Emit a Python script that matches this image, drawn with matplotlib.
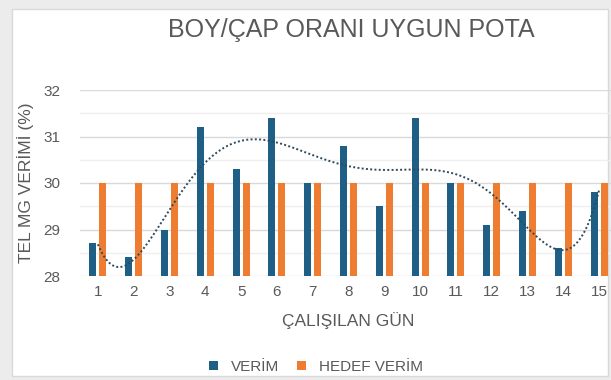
import numpy as np
import matplotlib.pyplot as plt
from matplotlib.patches import Rectangle

plt.rcParams['font.family'] = ['Liberation Sans', 'DejaVu Sans']

gun = np.arange(1, 16)
verim = [28.7, 28.4, 29.0, 31.2, 30.3, 31.4, 30.0, 30.8, 29.5, 31.4, 30.0, 29.1, 29.4, 28.6, 29.8]
hedef = [30.0] * 15

blue = '#1f5f86'
orange = '#ee7d31'
grey = '#595959'

fig = plt.figure(figsize=(6.11, 3.8), dpi=100)
fig.patch.set_facecolor('#ececec')
fig.patches.append(Rectangle((12 / 611, 4 / 380), 596 / 611, 367 / 380, transform=fig.transFigure,
                             facecolor='white', edgecolor='#d9d9d9', linewidth=1, zorder=-5))

ax = fig.add_axes([80 / 611, 104 / 380, 537 / 611, 186 / 380])
ax.set_facecolor('none')
ax.set_zorder(1)

w = 0.2
ax.bar(gun - 0.14, verim, w, color=blue, label='VERİM', zorder=3)
ax.bar(gun + 0.14, hedef, w, color=orange, label='HEDEF VERİM', zorder=3)

# polinom trend cizgisi (6. derece)
katsayi = np.polyfit(gun, verim, 6)
xs = np.linspace(1, 15, 300)
ax.plot(xs, np.polyval(katsayi, xs), color='#2e4a5e', linestyle=(0, (1, 1.2)), linewidth=1.4, zorder=4)

ax.set_xlim(0.5, 15.5)
ax.set_ylim(28, 32)
ax.set_yticks([28, 29, 30, 31, 32])
ax.set_yticks([28.5, 29.5, 30.5, 31.5], minor=True)
ax.set_xticks(gun)
ax.grid(axis='y', which='major', color='#d9d9d9', linewidth=1, zorder=0)
ax.grid(axis='y', which='minor', color='#efefef', linewidth=1, zorder=0)
for s in ax.spines.values():
    s.set_visible(False)
ax.tick_params(axis='both', which='both', length=0, colors=grey, labelsize=11)
ax.tick_params(axis='x', pad=6.5)
ax.tick_params(axis='y', pad=14)

ax.set_xlabel('ÇALIŞILAN GÜN', color=grey, fontsize=12.5, labelpad=9.5)
ax.set_ylabel('TEL MG VERİMİ (%)', color=grey, fontsize=12.5, labelpad=7)
fig.text(351 / 611, 1 - 30 / 380, 'BOY/ÇAP ORANI UYGUN POTA', ha='center', va='center',
         color=grey, fontsize=18)

ax.legend(loc='center', bbox_to_anchor=(316 / 611, 1 - 367 / 380), bbox_transform=fig.transFigure,
          ncol=2, frameon=False, fontsize=11, labelcolor=grey, handlelength=0.6, handleheight=0.6,
          columnspacing=1.2, handletextpad=0.8)

fig.savefig('out.png', dpi=100)
